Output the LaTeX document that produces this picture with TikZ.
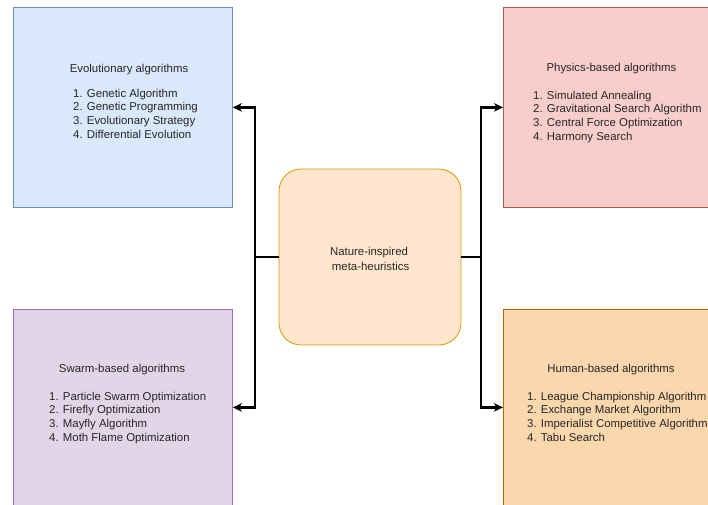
\documentclass[tikz,border=0pt]{standalone}
\usepackage{fontspec}
\setmainfont{Liberation Sans}
\usetikzlibrary{arrows.meta}
\definecolor{evofill}{HTML}{DAE8FC}\definecolor{evodraw}{HTML}{6C8EBF}
\definecolor{physfill}{HTML}{F8CECC}\definecolor{physdraw}{HTML}{B85450}
\definecolor{swfill}{HTML}{E1D5E7}\definecolor{swdraw}{HTML}{9673A6}
\definecolor{humfill}{HTML}{FAD7AC}\definecolor{humdraw}{HTML}{B46504}
\definecolor{corefill}{HTML}{FFE6CC}\definecolor{coredraw}{HTML}{D79B00}
\begin{document}
\begin{tikzpicture}[x=1pt,y=-1pt,
  box/.style={draw, line width=0.8pt, inner sep=0pt, anchor=north west},
  txt/.style={font=\fontsize{11.4}{13.7}\selectfont, inner sep=0pt, text=black!85},
  list/.style={txt, align=left, anchor=base west},
  ttl/.style={txt, anchor=base},
  conn/.style={line width=2.2pt, black},
  arr/.style={conn, -{Stealth[length=9pt,width=8.5pt,inset=2.5pt]}}]
\useasboundingbox (0,0) rectangle (708,504);
\fill[white] (0,0) rectangle (708,504);
\node[box, fill=evofill, draw=evodraw, minimum width=219pt, minimum height=200pt] (evo) at (13,7) {};
\node[box, fill=physfill, draw=physdraw, minimum width=220pt, minimum height=200pt] (phys) at (503,7) {};
\node[box, fill=swfill, draw=swdraw, minimum width=219pt, minimum height=196pt] (swarm) at (13,309) {};
\node[box, fill=humfill, draw=humdraw, minimum width=220pt, minimum height=196pt] (human) at (503,309) {};
\node[draw=coredraw, fill=corefill, line width=0.8pt, rounded corners=22pt, minimum width=182pt, minimum height=176pt, inner sep=0pt] (core) at (370,257) {};
\node[txt, align=center] (coretxt) at (369,259) {Nature-inspired\\[1.6pt]\ meta-heuristics};
% texts
\node[ttl] (evot) at (129,72) {Evolutionary algorithms};
\node[list] (evol) at (73,138.1) {1. Genetic Algorithm\\2. Genetic Programming\\3. Evolutionary Strategy\\4. Differential Evolution};
\node[ttl] (physt) at (611.5,71) {Physics-based algorithms};
\node[list] (physl) at (533,140.1) {1. Simulated Annealing\\2. Gravitational Search Algorithm\\3. Central Force Optimization\\4. Harmony Search};
\node[ttl] (swt) at (122,372) {Swarm-based algorithms};
\node[list] (swl) at (49,441.1) {1. Particle Swarm Optimization\\2. Firefly Optimization\\3. Mayfly Algorithm\\4. Moth Flame Optimization};
\node[ttl] (humt) at (611,372) {Human-based algorithms};
\node[list] (huml) at (527,441.1) {1. League Championship Algorithm\\2. Exchange Market Algorithm\\3. Imperialist Competitive Algorithm\\4. Tabu Search};
% connectors
\coordinate (jl) at (255,257);
\coordinate (jr) at (481,257);
\draw[conn] (core.west) -- (jl);
\draw[conn] (core.east) -- (jr);
\draw[arr] (jl) |- (evo.east);
\draw[arr] (jl) |- (swarm.east);
\draw[arr] (jr) |- (phys.west);
\draw[arr] (jr) |- (human.west);
\end{tikzpicture}
\end{document}
